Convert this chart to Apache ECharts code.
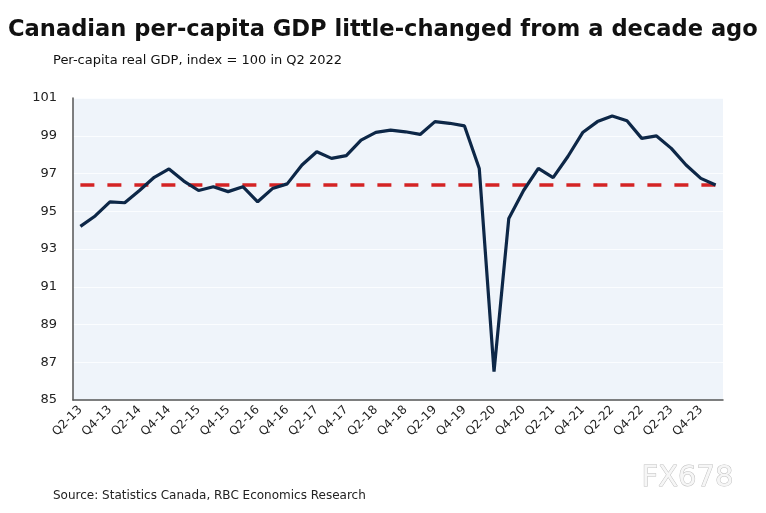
<!DOCTYPE html>
<html>
<head>
<meta charset="utf-8">
<script src="https://cdn.jsdelivr.net/npm/echarts@6/dist/echarts.min.js"></script>
<style>
html,body{margin:0;padding:0;background:#fff;}
#chart{width:766px;height:513px;}
</style>
</head>
<body>
<div id="chart"></div>
<script>
const titleText = 'Canadian per-capita GDP little-changed from a decade ago';
const subtitleText = 'Per-capita real GDP, index = 100 in Q2 2022';
const sourceText = 'Source: Statistics Canada, RBC Economics Research';
const watermarkText = 'FX678';

const quarters = [
  'Q2-13','Q3-13','Q4-13','Q1-14','Q2-14','Q3-14','Q4-14','Q1-15','Q2-15','Q3-15','Q4-15',
  'Q1-16','Q2-16','Q3-16','Q4-16','Q1-17','Q2-17','Q3-17','Q4-17','Q1-18','Q2-18','Q3-18',
  'Q4-18','Q1-19','Q2-19','Q3-19','Q4-19','Q1-20','Q2-20','Q3-20','Q4-20','Q1-21','Q2-21',
  'Q3-21','Q4-21','Q1-22','Q2-22','Q3-22','Q4-22','Q1-23','Q2-23','Q3-23','Q4-23','Q1-24'
];
const gdpIndex = [
  94.2, 94.75, 95.5, 95.45, 96.1, 96.8, 97.24, 96.6, 96.1, 96.3, 96.04,
  96.3, 95.5, 96.2, 96.45, 97.45, 98.15, 97.8, 97.95, 98.77, 99.18, 99.3,
  99.21, 99.07, 99.75, 99.66, 99.52, 97.27, 86.5, 94.62, 96.1, 97.27, 96.78,
  97.9, 99.17, 99.75, 100.05, 99.8, 98.86, 98.99, 98.33, 97.45, 96.74, 96.39
];
const referenceLevel = 96.39;
const yTicks = { min: 85, max: 101, interval: 2 };

const chart = echarts.init(document.getElementById('chart'));
chart.setOption({
  backgroundColor: '#ffffff',
  animation: false,
  title: [
    { text: titleText, left: 3, top: 14,
      textStyle: { fontFamily: 'DejaVu Sans', fontWeight: 'bold', fontSize: 22.6, color: '#111' } },
    { text: subtitleText, left: 48, top: 49,
      textStyle: { fontFamily: 'DejaVu Sans', fontWeight: 'normal', fontSize: 13, color: '#111' } }
  ],
  graphic: [
    { type: 'text', left: 53, top: 490,
      style: { text: sourceText, font: '12px "DejaVu Sans"', fill: '#222' } },
    { type: 'text', left: 641, top: 463,
      style: { text: watermarkText, font: '29px "DejaVu Sans"', fill: '#f6f6f6', stroke: '#c0c0c0', lineWidth: 1 } }
  ],
  grid: { left: 73, right: 43, top: 98, bottom: 113, show: true, backgroundColor: '#eff4fa', borderWidth: 0 },
  xAxis: {
    type: 'category',
    data: quarters,
    boundaryGap: true,
    axisLine: { show: true, lineStyle: { color: '#555', width: 1.5 } },
    axisTick: { show: false },
    axisLabel: { interval: 1, rotate: 45, fontFamily: 'DejaVu Sans', fontSize: 12, color: '#222', margin: 8 },
    splitLine: { show: false }
  },
  yAxis: {
    type: 'value',
    min: yTicks.min, max: yTicks.max, interval: yTicks.interval,
    axisLine: { show: true, lineStyle: { color: '#555', width: 1.5 } },
    axisTick: { show: false },
    axisLabel: { fontFamily: 'DejaVu Sans', fontSize: 13, color: '#222', margin: 16 },
    splitLine: { show: true, lineStyle: { color: '#fbfdff', width: 1 } }
  },
  series: [
    {
      type: 'line',
      data: gdpIndex,
      symbol: 'none',
      lineStyle: { color: '#0d2747', width: 3.2 },
      z: 3,
      markLine: {
        silent: true,
        symbol: 'none',
        label: { show: false },
        lineStyle: { color: '#d42324', width: 3.5, type: [14, 13] },
        data: [[
          { coord: [quarters[0], referenceLevel] },
          { coord: [quarters[quarters.length - 1], referenceLevel] }
        ]],
        z: 2
      }
    }
  ]
});
</script>
</body>
</html>
